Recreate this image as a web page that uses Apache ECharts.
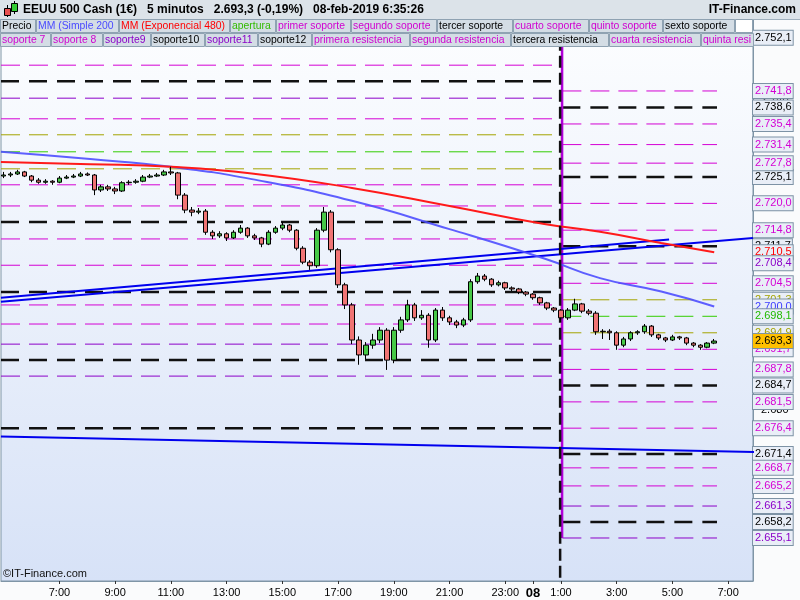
<!DOCTYPE html>
<html><head><meta charset="utf-8">
<script src="https://cdn.jsdelivr.net/npm/echarts@6/dist/echarts.min.js"></script>
<style>html,body{margin:0;padding:0;background:#fff}#c{width:800px;height:600px}</style>
</head><body><div id="c"></div>
<script>
// ---------------- DATA ----------------
const startHour = 5.0;      // first 15-min candle (hours since 7-feb 00:00)
const stepHour = 0.25;
// [open, close, low, high]
const ohlc = [
[2725.3,2725.5,2724.9,2726.1],[2725.5,2725.7,2725.1,2726.1],[2725.7,2726.1,2725.5,2726.5],[2726.1,2725.3,2725.1,2726.3],
[2725.3,2724.5,2724.1,2725.5],[2724.5,2724.1,2723.8,2724.9],[2724.1,2724.3,2723.8,2724.7],[2724.3,2724.1,2723.6,2724.5],
[2724.1,2724.9,2723.9,2725.3],[2724.9,2725.1,2724.7,2725.5],[2725.1,2725.3,2724.9,2725.7],[2725.3,2725.7,2725.1,2726.1],
[2725.7,2725.5,2725.3,2726.0],[2725.5,2722.6,2721.6,2725.7],[2722.6,2723.2,2722.2,2723.6],[2723.2,2722.8,2722.4,2723.6],
[2722.8,2722.4,2721.8,2723.2],[2722.4,2724.0,2722.2,2724.3],[2724.0,2724.1,2723.6,2724.5],[2724.1,2724.3,2723.8,2724.7],
[2724.3,2725.1,2724.1,2725.5],[2725.1,2725.3,2724.9,2725.7],[2725.3,2725.5,2725.1,2725.9],[2725.5,2726.1,2725.3,2726.5],
[2726.1,2725.9,2725.5,2727.1],[2725.9,2721.6,2720.8,2726.1],[2721.6,2718.7,2718.1,2722.0],[2718.7,2718.3,2717.5,2719.3],
[2718.3,2718.5,2717.9,2719.1],[2718.5,2714.4,2713.9,2718.9],[2714.4,2713.7,2713.1,2714.8],[2713.7,2714.1,2713.3,2714.6],
[2714.1,2713.3,2712.7,2714.4],[2713.3,2714.4,2713.1,2714.8],[2714.4,2715.2,2714.1,2715.8],[2715.2,2713.7,2713.3,2715.4],
[2713.7,2713.3,2712.9,2714.1],[2713.3,2712.1,2711.5,2713.5],[2712.1,2714.4,2711.9,2714.8],[2714.4,2715.2,2714.1,2715.6],
[2715.2,2715.8,2714.8,2716.4],[2715.8,2714.8,2714.4,2716.0],[2714.8,2711.3,2710.9,2715.0],[2711.3,2708.6,2708.2,2711.7],
[2708.6,2707.9,2707.1,2709.0],[2707.9,2714.8,2707.5,2715.2],[2714.8,2718.3,2714.4,2719.3],[2718.3,2711.0,2710.5,2718.7],
[2711.0,2704.2,2703.6,2711.3],[2704.2,2700.3,2699.5,2704.6],[2700.3,2693.5,2692.7,2700.7],[2693.5,2690.6,2688.7,2694.2],
[2690.6,2692.5,2689.8,2693.1],[2692.5,2693.5,2691.8,2694.7],[2693.5,2695.4,2692.9,2696.0],[2695.4,2689.6,2687.7,2695.8],
[2689.6,2695.4,2689.0,2696.0],[2695.4,2697.4,2694.9,2698.0],[2697.4,2700.3,2697.0,2701.3],[2700.3,2697.8,2697.2,2700.7],
[2697.8,2698.3,2697.4,2699.3],[2698.3,2693.5,2692.0,2698.7],[2693.5,2699.3,2693.1,2699.7],[2699.3,2697.8,2697.2,2699.9],
[2697.8,2697.0,2696.4,2698.2],[2697.0,2696.4,2695.8,2697.4],[2696.4,2697.4,2696.0,2697.8],[2697.4,2704.8,2697.0,2705.3],
[2704.8,2705.9,2704.4,2706.5],[2705.9,2705.3,2704.9,2706.3],[2705.3,2704.2,2703.8,2705.5],[2704.2,2704.6,2703.9,2705.0],
[2704.6,2703.6,2703.2,2704.8],[2703.6,2703.4,2703.0,2703.9],[2703.4,2702.8,2702.4,2703.6],[2702.8,2702.4,2702.0,2703.0],
[2702.4,2701.7,2701.3,2702.6],[2701.7,2700.7,2700.3,2701.9],[2700.7,2699.7,2699.3,2700.9],[2699.7,2699.3,2698.9,2699.9],
[2699.3,2697.8,2697.0,2699.5],[2697.8,2699.3,2697.4,2699.7],[2699.3,2700.5,2699.1,2701.5],[2700.5,2699.1,2698.7,2700.7],
[2699.1,2698.7,2698.3,2699.5],[2698.7,2695.1,2694.5,2699.1],[2695.1,2695.2,2693.7,2695.6],[2695.2,2694.9,2693.5,2695.6],
[2694.9,2692.5,2691.6,2695.2],[2692.5,2693.7,2692.1,2694.1],[2693.7,2694.9,2693.3,2695.2],[2694.9,2695.1,2694.5,2695.4],
[2695.1,2696.2,2694.7,2696.6],[2696.2,2694.5,2694.1,2696.4],[2694.5,2693.9,2693.5,2694.7],[2693.9,2693.5,2693.1,2694.1],
[2693.5,2694.1,2693.3,2694.5],[2694.1,2693.9,2693.5,2694.3],[2693.9,2692.9,2692.5,2694.1],[2692.9,2692.5,2692.1,2693.1],
[2692.5,2692.1,2691.6,2692.7],[2692.1,2692.9,2691.9,2693.1],[2692.9,2693.3,2692.7,2693.7]
];
const maTimes = [4.9, 8.1, 11.0, 13.9, 17.5, 21.0, 24.4, 26.4, 28.6, 30.5];
const sma200  = [2730.0, 2728.6, 2727.1, 2724.7, 2720.5, 2715.0, 2709.3, 2705.5, 2702.9, 2700.0];
const ema480  = [2728.0, 2727.6, 2727.1, 2725.8, 2723.0, 2719.5, 2716.0, 2714.5, 2712.3, 2710.5];

// previous-session levels / current-session levels
const aperturaLvl = [2730.0, 2698.1];
const oliveHigh = [2733.3, 2701.3];
const oliveLow  = [2726.7, 2694.9];
const soportesPrev = [2723.6, 2719.5, 2716.4, 2713.1, 2708.0, 2702.8, 2700.3, 2696.6, 2692.7, 2689.6, 2686.5, 2676.4];
const soportesHoy  = [2691.7, 2687.8, 2684.7, 2681.5, 2676.4, 2671.4, 2668.7, 2665.2, 2661.3, 2658.2, 2655.1, 2645.5];
const resistPrev   = [2736.4, 2740.4, 2743.7, 2746.8, 2751.0, 2754.0, 2757.0, 2760.0, 2763.0, 2766.0, 2769.0, 2775.0];
const resistHoy    = [2704.5, 2708.4, 2711.7, 2714.8, 2720.0, 2725.1, 2727.8, 2731.4, 2735.4, 2738.6, 2741.8, 2752.1];
const soporteKinds = ['m','m','k','m','m','k','m','m','p','k','p','k'];
const resistKinds  = ['m','p','k','m','m','k','m','m','m','k','m','k'];

// trend lines [hour, value]
const trendA = [[4.9, 2701.7], [28.88, 2713.0]];
const trendB = [[4.9, 2700.9], [31.89, 2713.3]];
const trendC = [[4.9, 2674.8], [33.58, 2671.6]];

const xTickHours  = [7, 9, 11, 13, 15, 17, 19, 21, 23, 24, 25, 27, 29, 31];
const xTickLabels = ['7:00','9:00','11:00','13:00','15:00','17:00','19:00','21:00','23:00','08','1:00','3:00','5:00','7:00'];
const yAxisTicks  = [2660, 2680, 2700, 2720, 2740];

const legendRow1 = [['Precio','#000'],['MM (Simple 200)','#4A4AFF'],['MM (Exponencial 480)','#FF0000'],['apertura','#33BB00'],
  ['primer soporte','#D000D0'],['segundo soporte','#D000D0'],['tercer soporte','#000'],['cuarto soporte','#D000D0'],
  ['quinto soporte','#D000D0'],['sexto soporte','#000']];
const legendRow2 = [['soporte 7','#D000D0'],['soporte 8','#D000D0'],['soporte9','#8A00C8'],['soporte10','#000'],
  ['soporte11','#8A00C8'],['soporte12','#000'],['primera resistencia','#D000D0'],['segunda resistencia','#D000D0'],
  ['tercera resistencia','#000'],['cuarta resistencia','#D000D0'],['quinta resistencia','#D000D0']];
const titleText = 'EEUU 500 Cash (1€)   5 minutos   2.693,3 (-0,19%)   08-feb-2019 6:35:26';

// ---------------- LAYOUT / STYLE ----------------
const XMIN = 4.903, XMAX = 31.892, BREAK = 25.0, LVL_END = 30.6;
const YMIN = 2646.76, YMAX = 2755.95;
const COL = { m:'#D400D4', p:'#8C00C8', k:'#111111', g:'#33CC00', o:'#A3A300' };
const DASH = { m:[19,9], p:[19,9], k:[18,10], g:[19,9], o:[19,9] };
const WID = { m:1, p:1, k:2.5, g:1, o:1 };
const FONT = '"Liberation Sans", Arial, sans-serif';

function fmtNum(v, d){ const s = v.toFixed(d); const p = s.split('.'); const i = p[0];
  return i.slice(0, i.length-3) + '.' + i.slice(-3) + (d ? ',' + p[1] : ''); }

const series = [];
function lineSeries(data, color, width, type, z, clip){
  series.push({ type:'line', data, symbol:'none', silent:true, animation:false, z, clip: clip !== false,
    lineStyle:{ color, width, type, cap:'butt' } });
}
const blackVals = [], colorVals = [];
function levelSeries(prev, today, kind){
  lineSeries([[XMIN,prev],[BREAK-0.05,prev]], COL[kind], WID[kind], DASH[kind], 2);
  lineSeries([[BREAK+0.05,today],[LVL_END,today]], COL[kind], WID[kind], DASH[kind], 2);
  if (kind === 'k') blackVals.push(prev, today);
  else if (kind === 'm' || kind === 'p') colorVals.push(prev, today);
  else lineSeries([[BREAK+0.03,prev],[BREAK+0.03,today]], COL[kind], 2, 'solid', 3);
}
resistPrev.forEach((v,i)=>levelSeries(v, resistHoy[i], resistKinds[i]));
soportesPrev.forEach((v,i)=>levelSeries(v, soportesHoy[i], soporteKinds[i]));
levelSeries(oliveHigh[0], oliveHigh[1], 'o');
levelSeries(oliveLow[0], oliveLow[1], 'o');
levelSeries(aperturaLvl[0], aperturaLvl[1], 'g');
// session separator: joined verticals of the stepped levels
lineSeries([[BREAK+0.04, Math.max(...colorVals)],[BREAK+0.04, Math.min(...colorVals)]], '#B000D8', 2.5, 'solid', 3);
lineSeries([[BREAK-0.03, Math.max(...blackVals)],[BREAK-0.03, Math.min(...blackVals)]], COL.k, 2.5, [12,5], 4);

[trendA, trendB, trendC].forEach(t=>lineSeries(t, '#0000EE', 2, 'solid', 3, false));
series.push({ type:'line', data: maTimes.map((t,i)=>[t, sma200[i]]), smooth:true, symbol:'none', animation:false, z:3,
  lineStyle:{ color:'#4E4EFF', width:2, opacity:0.9 } });
series.push({ type:'line', data: maTimes.map((t,i)=>[t, ema480[i]]), smooth:true, symbol:'none', animation:false, z:3,
  lineStyle:{ color:'#FF1A1A', width:2 } });
series.push({ type:'candlestick', data: ohlc.map((r,i)=>[startHour + i*stepHour, r[0], r[1], r[2], r[3]]),
  encode:{ x:0, y:[1,2,3,4] }, barWidth:5, animation:false, z:5,
  itemStyle:{ color:'#47C947', color0:'#F07474', borderColor:'#000', borderColor0:'#000', borderWidth:1 } });

// tags on right axis
const inRange = v => v > YMIN && v < YMAX;
const tagsBy = { m:[], p:[], k:[] };
resistHoy.forEach((v,i)=>{ if(inRange(v)) tagsBy[resistKinds[i]].push(v); });
soportesHoy.forEach((v,i)=>{ if(inRange(v)) tagsBy[soporteKinds[i]].push(v); });
const lastClose = ohlc[ohlc.length-1][1];

function tagAxis(values, textColor, tickColor, z, bg){
  return { type:'value', min:YMIN, max:YMAX, position:'right', z,
    axisLine:{show:false}, splitLine:{show:false},
    axisTick:{ show:true, customValues:values, length:5, lineStyle:{ color:tickColor, width:1 } },
    axisLabel:{ show:true, customValues:values, formatter:v=>fmtNum(v,1), color:textColor, fontSize:11, fontFamily:FONT,
      backgroundColor:bg || '#E9EEF7', borderColor:'#7D92A5', borderWidth:1, padding:[2,1,1,2], lineHeight:11, margin:0 } };
}

const yAxes = [
  { type:'value', min:YMIN, max:YMAX, position:'right', z:0,
    axisLine:{ show:true, lineStyle:{ color:'#7F95A6' } }, splitLine:{show:false},
    axisTick:{ show:false },
    axisLabel:{ customValues:yAxisTicks, formatter:v=>fmtNum(v,0), color:'#000', fontSize:11, fontFamily:FONT, margin:8 } },
  tagAxis(oliveHigh.slice(1).concat(oliveLow.slice(1)), '#A3A300', '#A3A300', 1),
  tagAxis(tagsBy.k, '#000', '#000', 2),
  tagAxis(tagsBy.m, '#D400D4', '#D400D4', 3),
  tagAxis([sma200[sma200.length-1]], '#3C3CFF', '#3C3CFF', 4),
  tagAxis([aperturaLvl[1]], '#22BB00', '#22BB00', 5),
  tagAxis([ema480[ema480.length-1]], '#FF0000', '#FF0000', 6),
  tagAxis(tagsBy.p, '#8C00C8', '#8C00C8', 7),
  tagAxis([lastClose], '#000', '#000', 8, '#FFC000')
];

// graphic: title bar, legend, copyright
const g = [];
g.push({ type:'rect', shape:{x:0,y:0,width:800,height:19}, style:{ fill:'#DCE3E9' } });
g.push({ type:'line', shape:{x1:0,y1:19.5,x2:800,y2:19.5}, style:{ stroke:'#9FB0BE' } });
// icon
g.push({ type:'line', shape:{x1:7.5,y1:5,x2:7.5,y2:17}, style:{ stroke:'#000' } });
g.push({ type:'rect', shape:{x:4.5,y:8.5,width:6,height:7}, style:{ fill:'#E85050', stroke:'#000' } });
g.push({ type:'line', shape:{x1:14.5,y1:1,x2:14.5,y2:14}, style:{ stroke:'#000' } });
g.push({ type:'rect', shape:{x:11.5,y:3.5,width:6,height:8}, style:{ fill:'#33CC33', stroke:'#000' } });
g.push({ type:'text', x:23, y:10, style:{ text:titleText, fill:'#000', font:'bold 12px '+FONT, verticalAlign:'middle' } });
g.push({ type:'text', x:796, y:10, style:{ text:'IT-Finance.com', fill:'#000', font:'bold 12px '+FONT, align:'right', verticalAlign:'middle' } });
const row1Boxes = [[0,35],[36,118],[119,229],[230,275],[276,350],[351,436],[437,512],[513,588],[589,662],[663,734]];
const row2Boxes = [[0,50],[51,102],[103,150],[151,204],[205,257],[258,311],[312,409],[410,510],[511,608],[609,700],[701,753]];
let zz = 100;
function legendRow(items, boxes, y){
  items.forEach((it,i)=>{
    const b = boxes[i];
    zz += 2;
    g.push({ type:'rect', z:zz, shape:{x:b[0]+0.5, y:y+0.5, width:b[1]-b[0], height:13}, style:{ fill:'#D4DDE5', stroke:'#8FA2B2', lineWidth:1 } });
    g.push({ type:'text', z:zz+1, x:b[0]+2, y:y+7.5, style:{ text:it[0], fill:it[1], font:'10.4px '+FONT, verticalAlign:'middle',
      width:b[1]-b[0]-2, overflow:'truncate', ellipsis:'' } });
  });
}
legendRow(legendRow1, row1Boxes, 19);
g.push({ type:'rect', z:200, shape:{x:735.5,y:19.5,width:17,height:13}, style:{ fill:'#FFFFFF', stroke:'#8FA2B2' } });
legendRow(legendRow2, row2Boxes, 33);
g.push({ type:'text', x:3, y:574, style:{ text:'©IT-Finance.com', fill:'#111', font:'11px '+FONT, verticalAlign:'middle' } });

const chart = echarts.init(document.getElementById('c'), null, { renderer:'canvas' });
chart.setOption({
  backgroundColor:'#FAFBFC',
  animation:false,
  grid:{ left:1, right:47, top:18, bottom:19, show:true, borderColor:'#7F95A6', borderWidth:1,
    backgroundColor: new echarts.graphic.LinearGradient(0,0,0,1,[{offset:0,color:'#FDFEFF'},{offset:1,color:'#D7E2F7'}]) },
  xAxis:{ type:'value', min:XMIN, max:XMAX,
    axisLine:{ show:true, lineStyle:{ color:'#7F95A6' } }, splitLine:{show:false},
    axisTick:{ show:true, customValues:xTickHours, length:3, lineStyle:{ color:'#333' } },
    axisLabel:{ customValues:xTickHours, color:'#000', fontSize:11, fontFamily:FONT, margin:6,
      formatter:v=>{ const i = xTickHours.indexOf(v); return v===24 ? '{b|'+xTickLabels[i]+'}' : xTickLabels[i]; },
      rich:{ b:{ fontWeight:'bold', fontSize:13, fontFamily:FONT, color:'#000' } } } },
  yAxis: yAxes,
  series: series,
  graphic:{ elements: g.map(e=>Object.assign({ z:100, silent:true }, e)) }
});
</script>
</body></html>
